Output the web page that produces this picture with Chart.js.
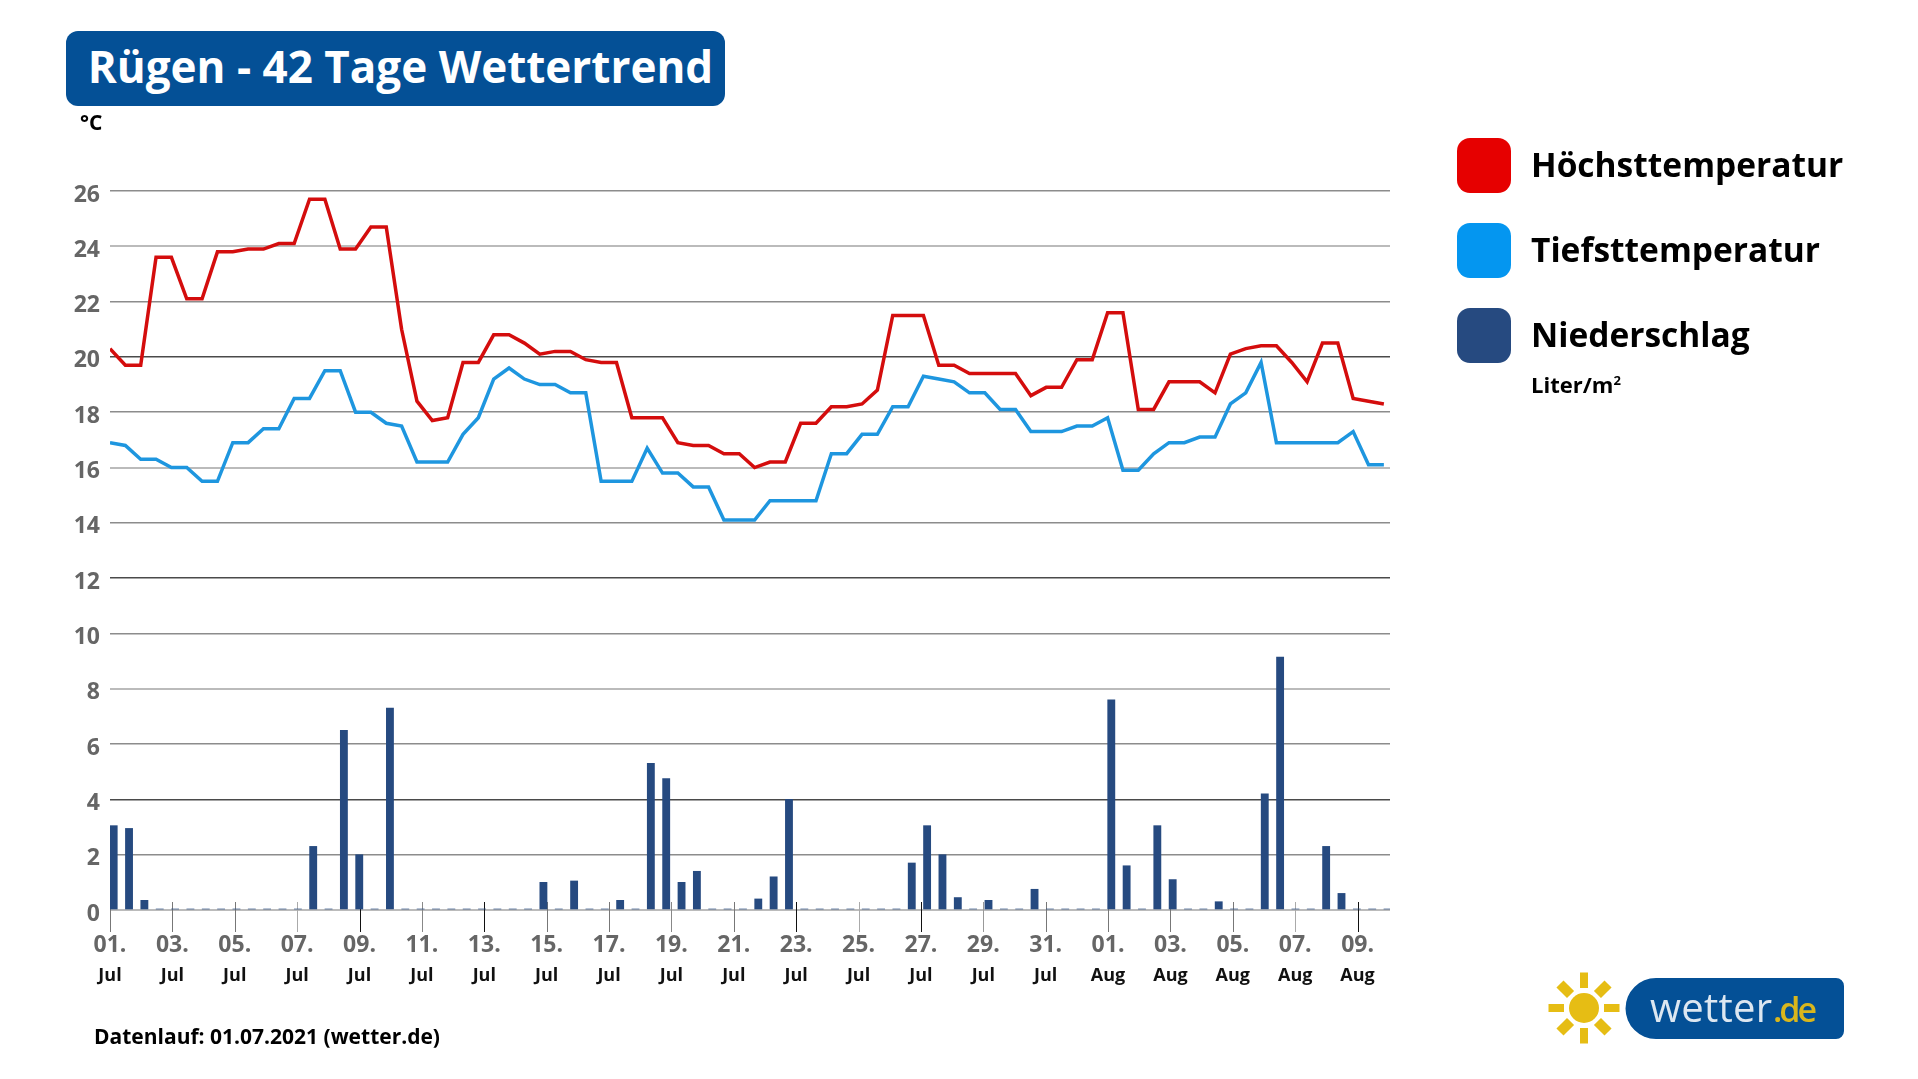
<!DOCTYPE html>
<html lang="de">
<head>
<meta charset="utf-8">
<title>Rügen - 42 Tage Wettertrend</title>
<script src="https://cdn.jsdelivr.net/npm/chart.js@4"></script>
<style>
  html, body { margin: 0; padding: 0; background: #fff; }
  body { width: 1918px; height: 1079px; position: relative; overflow: hidden; font-family: "Open Sans", sans-serif; color: #000; }
  #chart { position: absolute; left: 0; top: 0; }
  .titel { position: absolute; left: 66px; top: 31px; width: 649px; height: 75px; padding-left: 10px; line-height: 70px; background: #045096; border-radius: 12px; color: #fff; font-size: 44px; font-weight: 700; text-align: center; white-space: nowrap; }
  .einheit { position: absolute; left: 80px; top: 108px; font-size: 21px; font-weight: 700; }
  .swatch { position: absolute; left: 1457px; width: 54px; height: 55px; border-radius: 13px; }
  .leg { position: absolute; left: 1531px; font-size: 33.500px; font-weight: 700; line-height: 44px; white-space: nowrap; }
  .liter { position: absolute; left: 1531px; top: 369px; font-size: 22px; font-weight: 700; white-space: nowrap; }
  .liter sup { font-size: 13px; line-height: 0; }
  .datenlauf { position: absolute; left: 94px; top: 1022px; font-size: 21px; font-weight: 700; white-space: nowrap; }
  #logo { position: absolute; left: 1540px; top: 963px; }
</style>
</head>
<body>
<canvas id="chart" width="1918" height="1079"></canvas>

<div class="titel">Rügen - 42 Tage Wettertrend</div>
<div class="einheit">°C</div>

<div class="swatch" style="top:138px;background:#e60000"></div>
<div class="leg" style="top:142px">Höchsttemperatur</div>
<div class="swatch" style="top:223px;background:#0496f0"></div>
<div class="leg" style="top:227px">Tiefsttemperatur</div>
<div class="swatch" style="top:308px;background:#264a80"></div>
<div class="leg" style="top:312px">Niederschlag</div>
<div class="liter">Liter/m<sup>2</sup></div>

<div class="datenlauf">Datenlauf: 01.07.2021 (wetter.de)</div>

<svg id="logo" width="330" height="85" viewBox="-20 0 330 85">
  <g fill="#e6bd14" transform="translate(-19 0)">
    <circle cx="43" cy="45" r="15"/>
    <rect x="39" y="9.500" width="8" height="15.500"/>
    <rect x="39" y="65" width="8" height="15.500"/>
    <rect x="7.500" y="41" width="15.500" height="8"/>
    <rect x="63" y="41" width="15.500" height="8"/>
    <rect x="38" y="11" width="10" height="15" transform="rotate(45 43 45)"/>
    <rect x="38" y="11" width="10" height="15" transform="rotate(135 43 45)"/>
    <rect x="38" y="11" width="10" height="15" transform="rotate(225 43 45)"/>
    <rect x="38" y="11" width="10" height="15" transform="rotate(315 43 45)"/>
  </g>
  <path d="M96 15 H276 a8 8 0 0 1 8 8 V68 a8 8 0 0 1 -8 8 H96 a30.500 30.500 0 0 1 0 -61 Z" fill="#045096"/>
  <text x="90" y="59" font-family="Open Sans" font-size="40" fill="#dde7f1" textLength="122">wetter</text>
  <text x="213" y="59" font-family="Open Sans" font-size="34" font-weight="600" fill="#d9b61c" textLength="44">.de</text>
</svg>

<script>
var hoechst = [
  20.3, 19.7, 19.7, 23.6, 23.6, 22.1, 22.1, 23.8, 23.8, 23.9, 23.9, 24.1,
  24.1, 25.7, 25.7, 23.9, 23.9, 24.7, 24.7, 21.0, 18.4, 17.7, 17.8, 19.8,
  19.8, 20.8, 20.8, 20.5, 20.1, 20.2, 20.2, 19.9, 19.8, 19.8, 17.8, 17.8,
  17.8, 16.9, 16.8, 16.8, 16.5, 16.5, 16.0, 16.2, 16.2, 17.6, 17.6, 18.2,
  18.2, 18.3, 18.8, 21.5, 21.5, 21.5, 19.7, 19.7, 19.4, 19.4, 19.4, 19.4,
  18.6, 18.9, 18.9, 19.9, 19.9, 21.6, 21.6, 18.1, 18.1, 19.1, 19.1, 19.1,
  18.7, 20.1, 20.3, 20.4, 20.4, 19.8, 19.1, 20.5, 20.5, 18.5, 18.4, 18.3
];
var tiefst = [
  16.9, 16.8, 16.3, 16.3, 16.0, 16.0, 15.5, 15.5, 16.9, 16.9, 17.4, 17.4,
  18.5, 18.5, 19.5, 19.5, 18.0, 18.0, 17.6, 17.5, 16.2, 16.2, 16.2, 17.2,
  17.8, 19.2, 19.6, 19.2, 19.0, 19.0, 18.7, 18.7, 15.5, 15.5, 15.5, 16.7,
  15.8, 15.8, 15.3, 15.3, 14.1, 14.1, 14.1, 14.8, 14.8, 14.8, 14.8, 16.5,
  16.5, 17.2, 17.2, 18.2, 18.2, 19.3, 19.2, 19.1, 18.7, 18.7, 18.1, 18.1,
  17.3, 17.3, 17.3, 17.5, 17.5, 17.8, 15.9, 15.9, 16.5, 16.9, 16.9, 17.1,
  17.1, 18.3, 18.7, 19.8, 16.9, 16.9, 16.9, 16.9, 16.9, 17.3, 16.1, 16.1
];
var niederschlag = [
  3.05, 2.95, 0.35, 0, 0, 0, 0, 0, 0, 0, 0, 0,
  0, 2.3, 0, 6.5, 2.0, 0, 7.3, 0, 0, 0, 0, 0,
  0, 0, 0, 0, 1.0, 0, 1.05, 0, 0, 0.35, 0, 5.3,
  4.75, 1.0, 1.4, 0, 0, 0, 0.4, 1.2, 4.0, 0, 0, 0,
  0, 0, 0, 0, 1.7, 3.05, 2.0, 0.45, 0, 0.35, 0, 0,
  0.75, 0, 0, 0, 0, 7.6, 1.6, 0, 3.05, 1.1, 0, 0,
  0.3, 0, 0, 4.2, 9.15, 0, 0, 2.3, 0.6, 0, 0, 0
];
var dayLabels = ['01.', '03.', '05.', '07.', '09.', '11.', '13.', '15.', '17.', '19.', '21.',
  '23.', '25.', '27.', '29.', '31.', '01.', '03.', '05.', '07.', '09.'];
var monthLabels = ['Jul', 'Jul', 'Jul', 'Jul', 'Jul', 'Jul', 'Jul', 'Jul', 'Jul', 'Jul', 'Jul',
  'Jul', 'Jul', 'Jul', 'Jul', 'Jul', 'Aug', 'Aug', 'Aug', 'Aug', 'Aug'];

// gitterlinien wechseln im bild alle 8 grad
var gridColors = ['#bbbbbb', '#8c8c8c', '#4a4a4a', '#8c8c8c'];
var gridWidths = [2, 1.5, 1.5, 1.5];
var tickColors = ['#777', '#777', '#777', '#aaa', '#111', '#888', '#111', '#777', '#777', '#888', '#777',
  '#111', '#aaa', '#111', '#999', '#777', '#777', '#777', '#777', '#aaa', '#111'];

var barShift = 0.24;

function gridIndex(ctx) {
  return (ctx.tick.value / 2) % 4;
}

// striche an der zeitachse gehen etwas ueber die nulllinie hinaus
var tickPlugin = {
  id: 'zeitStriche',
  beforeDatasetsDraw: function(chart) {
    var xs = chart.scales.xTage;
    var nullY = chart.scales.y.getPixelForValue(0);
    var c = chart.ctx;
    c.save();
    c.lineWidth = 1;
    xs.ticks.forEach(function(t, i) {
      var px = Math.round(xs.getPixelForValue(t.value)) + 0.5;
      c.strokeStyle = tickColors[i];
      c.beginPath();
      c.moveTo(px, nullY - 8);
      c.lineTo(px, nullY + 22);
      c.stroke();
    });
    c.restore();
  }
};

function zeitAchse(labels, font, color, height, padding) {
  return {
    type: 'linear',
    position: 'bottom',
    min: 0,
    max: 20.52,
    offset: false,
    border: { display: false },
    grid: { display: false, drawTicks: false },
    afterFit: function(s) { s.height = height; s.paddingLeft = 0; s.paddingRight = 0; },
    ticks: {
      stepSize: 1,
      includeBounds: false,
      autoSkip: false,
      maxRotation: 0,
      padding: padding,
      color: color,
      font: font,
      callback: function(v) { return labels[v]; }
    }
  };
}

new Chart(document.getElementById('chart'), {
  type: 'bar',
  data: {
    datasets: [
      { type: 'line', label: 'Höchsttemperatur', data: hoechst.map(function(v, i) { return { x: i, y: v }; }), borderColor: '#d40d0d', borderWidth: 3.5, pointRadius: 0, tension: 0, xAxisID: 'x', order: 1 },
      { type: 'line', label: 'Tiefsttemperatur', data: tiefst.map(function(v, i) { return { x: i, y: v }; }), borderColor: '#1e96df', borderWidth: 3.5, pointRadius: 0, tension: 0, xAxisID: 'x', order: 2 },
      { type: 'bar', label: 'Niederschlag', data: niederschlag.map(function(v, i) { return { x: i + barShift, y: v }; }), backgroundColor: '#264a80', barThickness: 7.2, minBarLength: 1, xAxisID: 'x', order: 3 }
    ]
  },
  options: {
    responsive: false,
    animation: false,
    devicePixelRatio: 1,
    layout: { padding: { left: 0, right: 528, top: 191, bottom: 0 } },
    plugins: { legend: { display: false }, title: { display: false }, tooltip: { enabled: false } },
    scales: {
      x: { type: 'linear', min: 0, max: 83.4, offset: false, display: false },
      xTage: zeitAchse(dayLabels, { family: 'Open Sans', size: 23, weight: 'bold' }, '#666666', 55, 22),
      xMonate: zeitAchse(monthLabels, { family: 'Open Sans', size: 18, weight: 'bold' }, '#111111', 114, 0),
      y: {
        min: 0,
        max: 26,
        border: { display: false },
        afterFit: function(s) { s.width = 110; s.paddingTop = 0; s.paddingBottom = 0; },
        grid: {
          drawTicks: false,
          color: function(ctx) { return gridColors[gridIndex(ctx)]; },
          lineWidth: function(ctx) { return gridWidths[gridIndex(ctx)]; }
        },
        ticks: {
          stepSize: 2,
          padding: 10,
          labelOffset: 4,
          color: '#666666',
          font: { family: 'Open Sans', size: 23, weight: 'bold' }
        }
      }
    }
  },
  plugins: [tickPlugin]
});
</script>
</body>
</html>
